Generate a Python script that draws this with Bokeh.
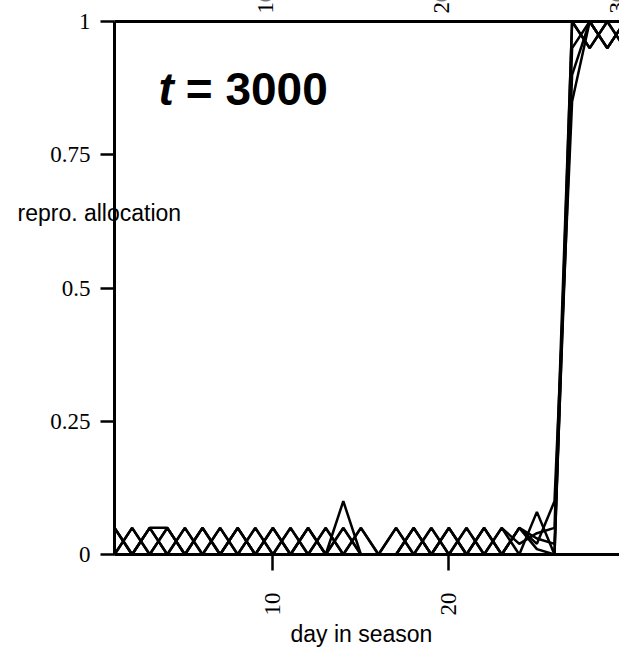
import math
from bokeh.plotting import figure
from bokeh.models import FixedTicker, Label, Range1d, LinearAxis
from bokeh.embed import file_html
from bokeh.resources import INLINE

days = list(range(1, 31))
series_a = [0, .05, 0, .05, 0, .05, 0, .05, 0, .05, 0, .05, 0, .05, 0, 0, 0, .05, 0, .05, 0, .05, 0, .05, .01, 0, 1, .95, 1, .95]
series_b = [.05, 0, .05, 0, .05, 0, .05, 0, .05, 0, .05, 0, .05, 0, .05, 0, .05, 0, .05, 0, .05, 0, .05, 0, .08, 0, .95, 1, .95, 1]
series_c = [.05, 0, .05, .05, 0, .05, 0, .05, 0, .05, 0, .05, 0, .05, 0, 0, 0, .05, 0, .05, 0, .05, 0, .05, .03, .02, .9, 1, .95, 1]
series_d = [0, .05, 0, .05, 0, .05, 0, .05, 0, .05, 0, .05, 0, .1, 0, 0, 0, .05, 0, .05, 0, .05, 0, .05, .02, .1, .85, 1, .95, 1]
series_e = [.05, 0, .05, 0, .05, 0, .05, 0, .05, 0, .05, 0, .05, 0, .05, 0, .05, 0, .05, 0, .05, 0, .05, .02, .04, .05, 1, .95, 1, .95]
all_series = [series_a, series_b, series_c, series_d, series_e]

x_ticks = [10, 20, 30]
y_ticks = [0, 0.25, 0.5, 0.75, 1]
y_tick_labels = {0: "0", 0.25: "0.25", 0.5: "0.5", 0.75: "0.75", 1: "1"}
title_italic = "t"
title_rest = "= 3000"
x_label = "day in season"
y_label = "repro. allocation"

# frame fills the whole canvas; axes are pinned inside it
p = figure(width=619, height=650, output_backend="svg", toolbar_location=None,
           x_range=Range1d(1 - 114 / 17.6, 1 + 505 / 17.6),
           y_range=Range1d(-96 / 533, 1 + 21 / 533),
           x_axis_location=None, y_axis_location=None,
           min_border_left=0, min_border_right=0, min_border_top=0, min_border_bottom=0)
p.grid.visible = False
p.outline_line_color = None
p.background_fill_color = "white"
p.border_fill_color = "white"


def style_axis(ax):
    ax.axis_line_width = 3
    ax.axis_line_color = "black"
    ax.major_tick_line_width = 2.5
    ax.major_tick_line_color = "black"
    ax.major_tick_in = 0
    ax.minor_tick_line_color = None
    ax.major_label_text_font = "Liberation Serif"
    ax.major_label_text_font_size = "23px"
    ax.major_label_text_color = "black"


xaxis = LinearAxis(fixed_location=0, bounds=(1, 31), ticker=FixedTicker(ticks=x_ticks))
style_axis(xaxis)
xaxis.major_label_orientation = math.pi / 2
xaxis.major_tick_out = 16
xaxis.major_label_standoff = 22
p.add_layout(xaxis, "below")

yaxis = LinearAxis(fixed_location=1, bounds=(0, 1), ticker=FixedTicker(ticks=y_ticks))
style_axis(yaxis)
yaxis.major_label_overrides = y_tick_labels
yaxis.major_tick_out = 14
yaxis.major_label_standoff = 10
p.add_layout(yaxis, "left")

topaxis = LinearAxis(fixed_location=1, bounds=(1, 31), ticker=FixedTicker(ticks=[]))
style_axis(topaxis)
topaxis.major_tick_out = 0
p.add_layout(topaxis, "above")

for s in all_series:
    p.line(days, s, line_color="black", line_width=2.5)

# top axis labels (cut off by the window edge, as in the reference)
for t in x_ticks:
    p.add_layout(Label(x=t, y=1 + 8 / 533, text=str(t), angle=math.pi / 2, text_align="left",
                       text_baseline="bottom", text_font="Liberation Serif",
                       text_font_size="23px", text_color="black"))

p.add_layout(Label(x=3.5, y=0.874, text=title_italic, text_font="Liberation Sans",
                   text_font_style="bold italic", text_font_size="46px",
                   text_align="left", text_baseline="alphabetic", text_color="black"))
p.add_layout(Label(x=5.05, y=0.874, text=title_rest, text_font="Liberation Sans",
                   text_font_style="bold", text_font_size="46px",
                   text_align="left", text_baseline="alphabetic", text_color="black"))

p.add_layout(Label(x=1 - 97 / 17.6, y=0.64, text=y_label, text_font="Liberation Sans",
                   text_font_size="23px", text_align="left", text_baseline="middle",
                   text_color="black"))
p.add_layout(Label(x=15.03, y=-0.150, text=x_label, text_font="Liberation Sans",
                   text_font_size="23px", text_align="center", text_baseline="middle",
                   text_color="black"))

open("out.html", "w").write(file_html(p, INLINE))
